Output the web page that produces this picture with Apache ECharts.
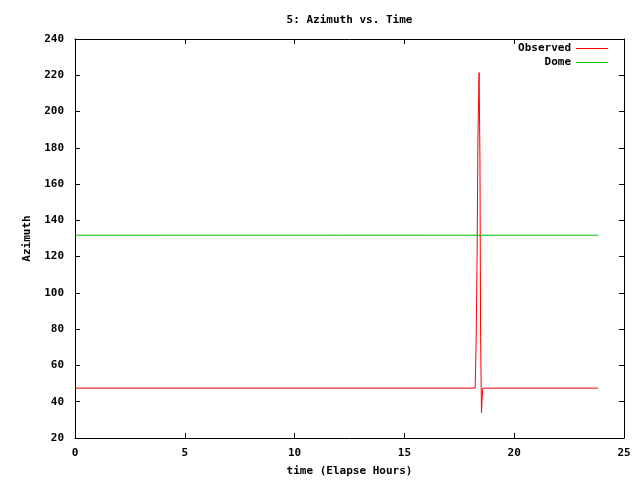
<!DOCTYPE html>
<html><head><meta charset="utf-8">
<script src="https://cdn.jsdelivr.net/npm/echarts@6/dist/echarts.min.js"></script>
<style>html,body{margin:0;padding:0;background:#fff}#c{width:640px;height:480px}</style>
</head><body><div id="c"></div>
<script>
const observedTime = [0, 18.22, 18.24, 18.27, 18.31, 18.35, 18.40, 18.44, 18.47, 18.51, 18.54, 18.57, 23.82];
const observedAz   = [47.5, 47.5, 57, 76, 120, 187, 221.5, 174, 76, 34, 42, 47.5, 47.5];
const domeTime = [0, 23.82];
const domeAz   = [131.8, 131.8];
const xTicks = [0, 5, 10, 15, 20, 25];
const yTicks = [20, 40, 60, 80, 100, 120, 140, 160, 180, 200, 220, 240];

const F = 'DejaVu Sans Mono';
const txt = {fontFamily: F, fontWeight: 'bold', fontSize: 11, color: '#000'};
const chart = echarts.init(document.getElementById('c'));
const grid = {left: 75, right: 16, top: 39, bottom: 42, containLabel: false, outerBoundsMode: 'none'};
const tick = {show: true, inside: true, length: 5, lineStyle: {color: '#000', width: 1}};
const line = {show: true, onZero: false, lineStyle: {color: '#000', width: 1}};
const RED = '#ff0000', GREEN = '#00c000';
chart.setOption({
  backgroundColor: '#fff',
  animation: false,
  title: {text: '5: Azimuth vs. Time', left: 344.5, top: 10, textAlign: 'center',
    textStyle: Object.assign({}, txt)},
  legend: [
    {data: [{name: 'Observed', itemStyle: {color: RED, borderWidth: 0}}], right: 32, top: 43, orient: 'vertical', align: 'right', itemWidth: 32, itemHeight: 1, icon: 'rect', itemGap: 0, padding: 0, textStyle: Object.assign({}, txt), selectedMode: false},
    {data: [{name: 'Dome', itemStyle: {color: GREEN, borderWidth: 0}}], right: 32, top: 57, orient: 'vertical', align: 'right', itemWidth: 32, itemHeight: 1, icon: 'rect', itemGap: 0, padding: 0, textStyle: Object.assign({}, txt), selectedMode: false}
  ],
  grid: grid,
  xAxis: [
    {type: 'value', min: xTicks[0], max: xTicks[xTicks.length-1], interval: 5, position: 'bottom',
     axisLine: line, axisTick: tick, splitLine: {show: false},
     axisLabel: Object.assign({margin: 10}, txt),
     name: 'time (Elapse Hours)', nameLocation: 'middle', nameGap: 28, nameTextStyle: Object.assign({}, txt)},
    {type: 'value', min: xTicks[0], max: xTicks[xTicks.length-1], interval: 5, position: 'top',
     axisLine: line, axisTick: tick, splitLine: {show: false}, axisLabel: {show: false}}
  ],
  yAxis: [
    {type: 'value', min: yTicks[0], max: yTicks[yTicks.length-1], interval: 20, position: 'left',
     axisLine: line, axisTick: tick, splitLine: {show: false},
     axisLabel: Object.assign({margin: 11}, txt),
     name: 'Azimuth', nameLocation: 'middle', nameGap: 42, nameRotate: 90, nameTextStyle: Object.assign({}, txt)},
    {type: 'value', min: yTicks[0], max: yTicks[yTicks.length-1], interval: 20, position: 'right',
     axisLine: line, axisTick: tick, splitLine: {show: false}, axisLabel: {show: false}}
  ],
  series: [
    {name: 'Observed', type: 'line', showSymbol: false, color: RED,
     itemStyle: {color: RED}, lineStyle: {width: 1, color: RED},
     data: observedTime.map((t, i) => [t, observedAz[i]])},
    {name: 'Dome', type: 'line', showSymbol: false, color: GREEN,
     itemStyle: {color: GREEN}, lineStyle: {width: 1, color: GREEN},
     data: domeTime.map((t, i) => [t, domeAz[i]])}
  ]
});
</script></body></html>
